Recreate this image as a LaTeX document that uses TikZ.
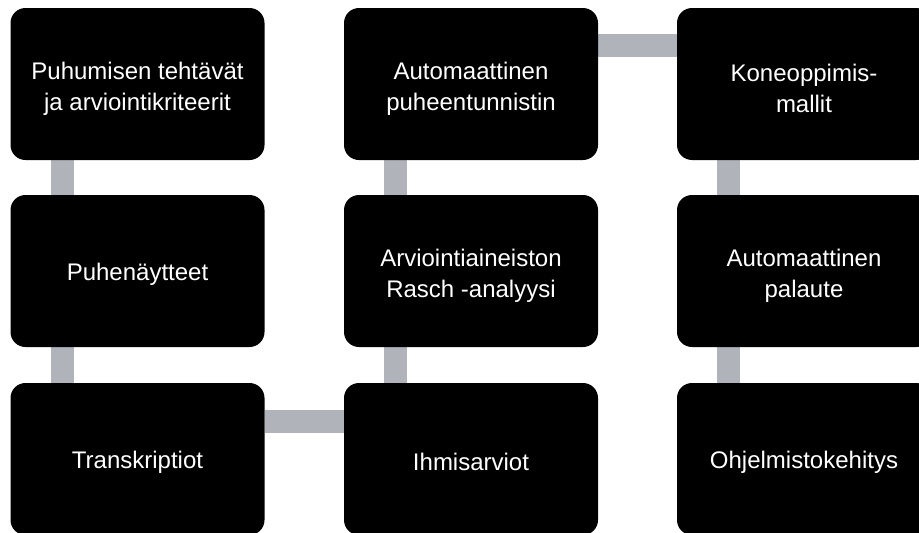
\documentclass[tikz,border=0pt]{standalone}
\usepackage{fontspec}
\setmainfont{Liberation Sans}
\usepackage{xcolor}
\usepackage{tikz}
\usetikzlibrary{backgrounds}

\definecolor{linkgray}{RGB}{176,179,186}
\newcommand{\tallstrut}{\rule{0pt}{27pt}}

\tikzset{
  stagebox/.style={rectangle, rounded corners=15pt, fill=black, text=white,
    minimum width=254pt, minimum height=152pt, align=center,
    font=\fontsize{24}{31}\selectfont,
    execute at begin node={\rule{0pt}{24pt}}},
  link/.style={draw=linkgray, line width=23pt}
}

\begin{document}
\begin{tikzpicture}[x=1pt, y=-1pt]
    \useasboundingbox (0,0) rectangle (919,533);

    \node[stagebox] (tehtavat) at (137.5,84) {\tallstrut Puhumisen tehtävät\\ja arviointikriteerit};
    \node[stagebox] (naytteet) at (137.5,271) {Puhenäytteet};
    \node[stagebox] (transkr) at (137.5,459) {Transkriptiot};

    \node[stagebox] (asr) at (471,84) {\tallstrut Automaattinen\\puheentunnistin};
    \node[stagebox] (rasch) at (471,271) {\tallstrut Arviointiaineiston\\Rasch -analyysi};
    \node[stagebox] (ihmis) at (471,459) {Ihmisarviot};

    \node[stagebox] (kone) at (804,84) {\tallstrut Koneoppimis-\\mallit};
    \node[stagebox] (palaute) at (804,271) {\tallstrut Automaattinen\\palaute};
    \node[stagebox] (ohjelmisto) at (804,459) {Ohjelmistokehitys};

    \begin{scope}[on background layer]
    \draw[link] ([xshift=52pt]tehtavat.south west) -- ([xshift=52pt]naytteet.north west);
    \draw[link] ([xshift=52pt]naytteet.south west) -- ([xshift=52pt]transkr.north west);
    \draw[link] ([yshift=-39pt]transkr.north east) -- ([yshift=-39pt]ihmis.north west);
    \draw[link] ([xshift=52pt]ihmis.north west) -- ([xshift=52pt]rasch.south west);
    \draw[link] ([xshift=52pt]rasch.north west) -- ([xshift=52pt]asr.south west);
    \draw[link] ([yshift=-38pt]asr.north east) -- ([yshift=-38pt]kone.north west);
    \draw[link] ([xshift=52pt]kone.south west) -- ([xshift=52pt]palaute.north west);
    \draw[link] ([xshift=52pt]palaute.south west) -- ([xshift=52pt]ohjelmisto.north west);
    \end{scope}
\end{tikzpicture}
\end{document}
